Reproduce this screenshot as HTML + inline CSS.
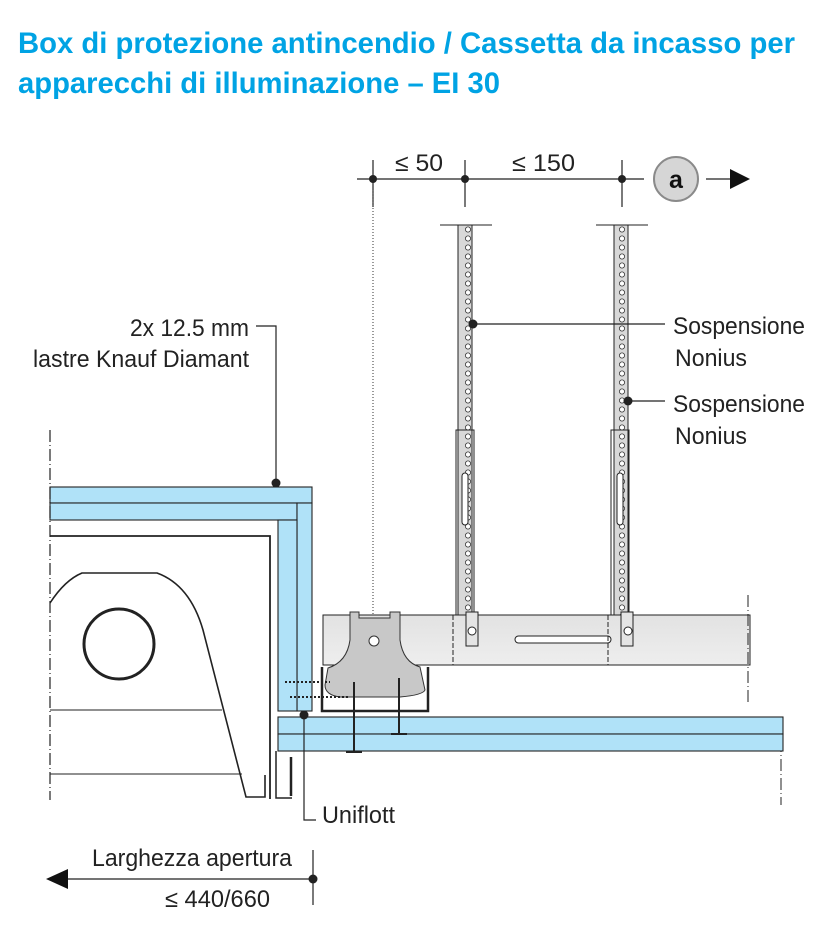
<!DOCTYPE html>
<html><head><meta charset="utf-8"><style>
html,body{margin:0;padding:0;background:#fff;width:840px;height:945px;overflow:hidden}
svg{display:block}
text{font-family:"Liberation Sans",sans-serif}
</style></head><body>
<svg width="840" height="945" viewBox="0 0 840 945" xmlns="http://www.w3.org/2000/svg">
<defs>
<pattern id="holes" x="0" y="0" width="14" height="9" patternUnits="userSpaceOnUse">
<circle cx="6" cy="4.5" r="2.6" fill="#fff" stroke="#333" stroke-width="0.8"/>
</pattern>
<linearGradient id="g1" x1="0" y1="0" x2="0" y2="1"><stop offset="0" stop-color="#e2e2e2"/><stop offset="1" stop-color="#eeeeee"/></linearGradient>
</defs>
<g fill="#00a3e4" font-weight="bold" font-size="30">
<text x="18" y="53" textLength="777" lengthAdjust="spacingAndGlyphs">Box di protezione antincendio / Cassetta da incasso per</text>
<text x="18" y="93" textLength="482" lengthAdjust="spacingAndGlyphs">apparecchi di illuminazione – EI 30</text>
</g>

<g stroke="#222" stroke-width="1.2" fill="none">
<line x1="357" y1="179" x2="644" y2="179"/>
<line x1="373" y1="160" x2="373" y2="207"/>
<line x1="465" y1="160" x2="465" y2="207"/>
<line x1="622" y1="160" x2="622" y2="207"/>
<line x1="706" y1="179" x2="730" y2="179"/>
</g>
<polygon points="730,169 750,179 730,189" fill="#111"/>
<g fill="#222"><circle cx="373" cy="179" r="4"/><circle cx="465" cy="179" r="4"/><circle cx="622" cy="179" r="4"/></g>
<circle cx="676" cy="179" r="22" fill="#d6d6d6" stroke="#8a8a8a" stroke-width="2"/>
<text x="676" y="188" font-size="25" font-weight="bold" text-anchor="middle" fill="#111">a</text>
<g font-size="24" fill="#222">
<text x="395" y="171" textLength="48" lengthAdjust="spacingAndGlyphs">≤ 50</text>
<text x="512" y="171" textLength="63" lengthAdjust="spacingAndGlyphs">≤ 150</text>
</g>
<line x1="373" y1="190" x2="373" y2="614" stroke="#333" stroke-width="1" stroke-dasharray="1,2"/>

<g stroke="#222" stroke-width="1">
<line x1="440" y1="225" x2="492" y2="225"/>
<line x1="596" y1="225" x2="648" y2="225"/>
<rect x="458" y="225" width="14" height="392" fill="#d8d8d8"/>
<rect x="458" y="225" width="14" height="392" fill="url(#holes)"/>
<rect x="614" y="225" width="14" height="392" fill="#d8d8d8"/>
<rect x="614" y="225" width="14" height="392" fill="url(#holes)"/>
<rect x="456" y="430" width="18" height="190" fill="none"/>
<rect x="611" y="430" width="18" height="190" fill="none"/>
</g>
<g fill="#fff" stroke="#222"><rect x="462" y="473" width="6" height="52" rx="3"/><rect x="617" y="473" width="6" height="52" rx="3"/></g>

<rect x="323" y="615" width="427" height="50" fill="url(#g1)" stroke="#222" stroke-width="1"/>
<rect x="515" y="636" width="96" height="7" rx="3.5" fill="#fff" stroke="#222"/>
<g fill="#e4e4e4" stroke="#222"><rect x="466" y="612" width="12" height="34"/><rect x="621" y="612" width="12" height="34"/></g>
<g fill="#fff" stroke="#222"><circle cx="472" cy="631" r="4"/><circle cx="628" cy="631" r="4"/></g>
<g stroke="#222" stroke-dasharray="5,2" fill="none"><line x1="453" y1="615" x2="453" y2="665"/><line x1="608" y1="615" x2="608" y2="665"/></g>
<line x1="748" y1="595" x2="748" y2="705" stroke="#222" stroke-dasharray="12,3,1,3"/>
<line x1="781" y1="740" x2="781" y2="805" stroke="#222" stroke-dasharray="12,3,1,3"/>

<g fill="#b0e2f8" stroke="#222" stroke-width="1.1">
<rect x="50" y="487" width="262" height="16"/>
<rect x="50" y="503" width="247" height="17"/>
<rect x="297" y="503" width="15" height="208"/>
<rect x="278" y="520" width="19" height="191"/>
<rect x="278" y="717" width="505" height="17"/>
<rect x="278" y="734" width="505" height="17"/>
</g>
<line x1="50" y1="430" x2="50" y2="800" stroke="#222" stroke-width="1.2" stroke-dasharray="12,3,1,3"/>

<g stroke="#222" fill="none">
<polyline points="50,536 270,536 270,799" stroke-width="1.8"/>
<path d="M50,603 Q65,580 82,573 L157,573 Q190,585 203,630 L246,797 L265,797 L265,775" stroke-width="1.6"/>
<circle cx="119" cy="644" r="35" stroke-width="3"/>
<line x1="50" y1="710" x2="222" y2="710"/>
<line x1="50" y1="774" x2="242" y2="774"/>
<polyline points="276,751 276,798 292,798" stroke-width="1.5"/>
<line x1="291" y1="757" x2="291" y2="796" stroke-width="2.5"/>
</g>

<path d="M350,612 L359,612 L359,618 L390,618 L390,612 L400,612 L400,640 Q403,662 420,667 L425,690 Q423,695 400,697 L340,697 Q325,695 325,685 L328,668 Q347,662 350,640 Z" fill="#c8c8c8" stroke="#333"/>
<circle cx="374" cy="641" r="5" fill="#fff" stroke="#333"/>
<path d="M322,667 L322,711 L428,711 L428,667" fill="none" stroke="#222" stroke-width="2.5"/>
<g stroke="#222" stroke-width="2">
<line x1="354" y1="682" x2="354" y2="752"/><line x1="399" y1="678" x2="399" y2="733"/>
<line x1="346" y1="752" x2="362" y2="752"/><line x1="391" y1="734" x2="407" y2="734"/>
<line x1="290" y1="697" x2="350" y2="697" stroke-dasharray="2,2"/>
<line x1="285" y1="682" x2="330" y2="682" stroke-dasharray="2,2"/>
</g>

<g stroke="#222" stroke-width="1.2" fill="none">
<line x1="473" y1="324" x2="665" y2="324"/>
<line x1="628" y1="401" x2="665" y2="401"/>
<polyline points="256,326 276,326 276,483"/>
<polyline points="304,715 304,820 316,820"/>
<line x1="66" y1="879" x2="313" y2="879"/>
<line x1="313" y1="850" x2="313" y2="905"/>
</g>
<polygon points="68,869 46,879 68,889" fill="#111"/>
<g fill="#222"><circle cx="473" cy="324" r="4.5"/><circle cx="628" cy="401" r="4.5"/><circle cx="276" cy="483" r="4.5"/><circle cx="304" cy="715" r="4.5"/><circle cx="313" cy="879" r="4.5"/></g>

<g font-size="24" fill="#222">
<text x="673" y="334" textLength="132" lengthAdjust="spacingAndGlyphs">Sospensione</text>
<text x="675" y="366" textLength="72" lengthAdjust="spacingAndGlyphs">Nonius</text>
<text x="673" y="412" textLength="132" lengthAdjust="spacingAndGlyphs">Sospensione</text>
<text x="675" y="444" textLength="72" lengthAdjust="spacingAndGlyphs">Nonius</text>
<text x="130" y="336" textLength="119" lengthAdjust="spacingAndGlyphs">2x 12.5 mm</text>
<text x="33" y="367" textLength="216" lengthAdjust="spacingAndGlyphs">lastre Knauf Diamant</text>
<text x="322" y="823" textLength="73" lengthAdjust="spacingAndGlyphs">Uniflott</text>
<text x="92" y="866" textLength="200" lengthAdjust="spacingAndGlyphs">Larghezza apertura</text>
<text x="165" y="907" textLength="105" lengthAdjust="spacingAndGlyphs">≤ 440/660</text>
</g>
</svg>
</body></html>
